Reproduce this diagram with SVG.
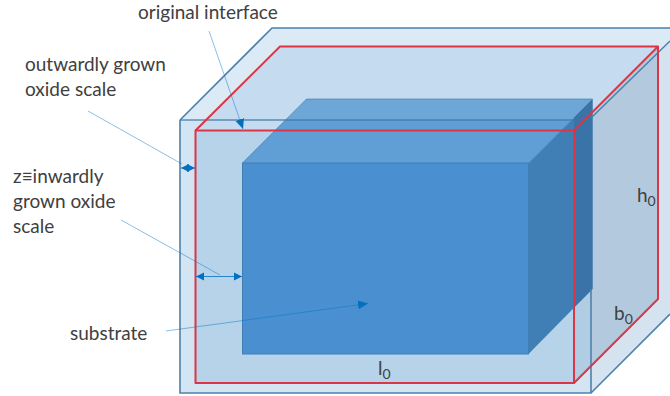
<svg xmlns="http://www.w3.org/2000/svg" width="670" height="396" viewBox="0 0 670 396">
<style>
text{font-family:Lato,"Liberation Sans",sans-serif;font-size:19px;fill:#404040}
.o{stroke:#4f81ab;stroke-width:1.6;fill:none}
.t{stroke:#3f78a8;stroke-width:1.4;fill:none}
.r{stroke:#dc3545;stroke-width:2;fill:none;stroke-linejoin:round}
.e{stroke:#3f78a8;stroke-width:1;stroke-opacity:.6;fill:none}
.l{stroke:#0070c0;stroke-width:1;stroke-opacity:.45;fill:none}
.d{stroke:#0070c0;stroke-width:1;stroke-opacity:.8;fill:none}
.s{font-size:14px}
</style>
<defs>
<marker id="a" markerUnits="userSpaceOnUse" markerWidth="11" markerHeight="10" refX="10" refY="5" orient="auto"><path d="M0 .5 10 5 0 9.500z" fill="#0070c0"/></marker>
<marker id="b" markerUnits="userSpaceOnUse" markerWidth="9" markerHeight="10" refX="8" refY="5" orient="auto-start-reverse"><path d="M0 1 8 5 0 9z" fill="#0070c0"/></marker>
</defs>
<g id="oxide-box">
<polygon points="180,120 272,28 684,28 591,120" fill="#dbeaf5"/>
<polygon points="591,120 684,28 684,301 591,393" fill="#d5e2ef"/>
<rect x="180" y="120" width="411" height="273" fill="#d3e4f3"/>
</g>
<g id="interface-box">
<polygon points="195.500,130.500 280,46.500 658,46.500 574,130.500" fill="#c5dcf0"/>
<polygon points="574,130.500 658,46.500 658,299 574,383" fill="#b3c9de"/>
<polygon points="574,130.500 591,113.500 591,366 574,383" fill="#b0cde3"/>
<rect x="195.500" y="130.500" width="378.500" height="252.500" fill="#b7d3ea"/>
</g>
<g id="substrate">
<polygon points="242.500,163 306.500,99 592.500,99 528.500,163" fill="#6ca7d8"/>
<polygon points="261.500,144 285.500,120 571.500,120 528.500,163 242.500,163" fill="#5f9fd5"/>
<polygon points="528.500,163 592.500,99 592.500,289 528.500,354" fill="#3f7fb6"/>
<polygon points="574,117.500 592.500,99 592.500,289 574,307.500" fill="#3a73a8"/>
<rect x="242.500" y="163" width="286" height="191" fill="#4a90d0"/>
<path class="e" d="M242.500 163 306.500 99H592.500"/>
<rect x="242.500" y="163" width="286" height="191" fill="none" stroke="#3f7fb6" stroke-width="1"/>
</g>
<g id="box-edges">
<path class="o" d="M180 120 272 28H670M180 120V393H591V289M591 393 670 314"/>
<path class="t" d="M180 120H591" stroke-opacity=".8"/>
<path class="o" d="M591 118 670 41"/>
<path class="r" d="M195.500 130.500 280 46.500H658V299L574 383M574 130.500 658 46.500"/>
<rect class="r" x="195.500" y="130.500" width="378.500" height="252.500"/>
</g>
<g id="connectors">
<path class="l" d="M209 31 243 129" marker-end="url(#a)"/>
<path class="l" d="M88 111 182 164"/>
<path class="d" d="M181 168H195" marker-start="url(#b)" marker-end="url(#b)"/>
<path class="l" d="M121 220 220 275"/>
<path class="d" d="M196 276.500H242" marker-start="url(#b)" marker-end="url(#b)"/>
<path class="l" d="M166 331 368 303.500" marker-end="url(#a)"/>
</g>
<g id="label-original-interface"><text x="138" y="18.500">original interface</text></g>
<g id="label-outward"><text x="25" y="71">outwardly grown</text><text x="25" y="96">oxide scale</text></g>
<g id="label-inward"><text x="13" y="183">z≡inwardly</text><text x="13" y="208">grown oxide</text><text x="13" y="233">scale</text></g>
<g id="label-substrate"><text x="70" y="340">substrate</text></g>
<g id="label-l0"><text x="378" y="375">l<tspan class="s" dy="4">0</tspan></text></g>
<g id="label-b0"><text x="614" y="320">b<tspan class="s" dy="4">0</tspan></text></g>
<g id="label-h0"><text x="637" y="202">h<tspan class="s" dy="4">0</tspan></text></g>
</svg>
